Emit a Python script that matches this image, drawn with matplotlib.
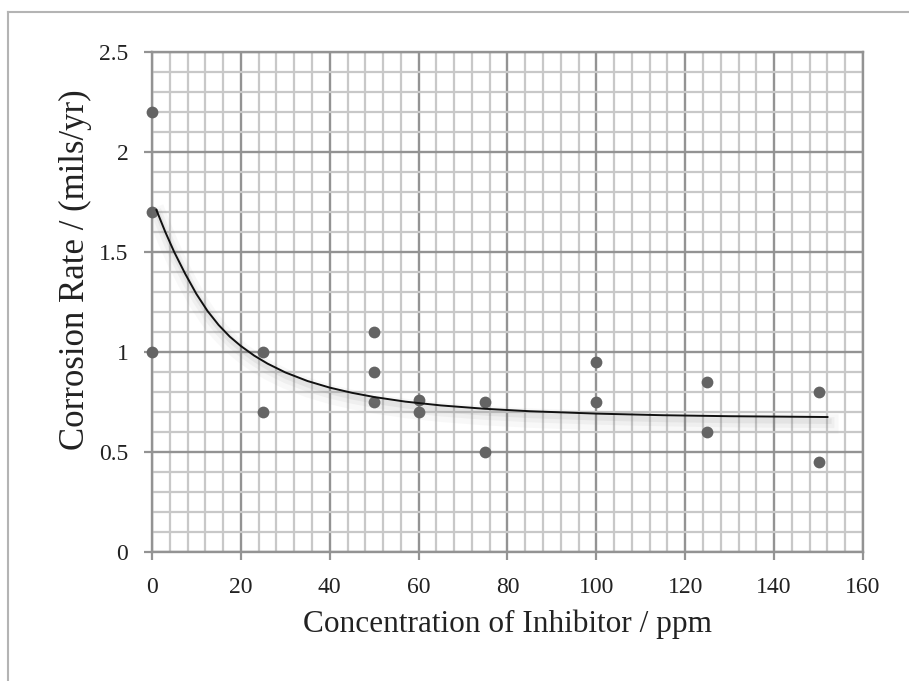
import matplotlib
matplotlib.use('Agg')
import matplotlib.pyplot as plt
import matplotlib.patheffects as pe
from matplotlib.ticker import MultipleLocator

# measured corrosion rates
conc = [0, 0, 0, 25, 25, 50, 50, 50, 60, 60, 75, 75, 100, 100, 125, 125, 150, 150]
rate = [2.2, 1.7, 1.0, 1.0, 0.7, 1.1, 0.9, 0.75, 0.76, 0.7, 0.75, 0.5, 0.95, 0.75, 0.85, 0.6, 0.8, 0.45]

# trend line
trend_x = [1, 3, 5, 7.5, 10, 12.5, 15, 17.5, 20, 23, 26, 30, 35, 40, 45, 50, 57, 65, 75, 85,
           100, 115, 130, 152]
trend_y = [1.71, 1.60, 1.50, 1.39, 1.29, 1.205, 1.135, 1.077, 1.03, 0.982, 0.942, 0.898, 0.855,
           0.822, 0.796, 0.775, 0.752, 0.733, 0.716, 0.704, 0.692, 0.684, 0.679, 0.675]

plt.rcParams['font.family'] = 'Liberation Serif'

fig = plt.figure(figsize=(9.09, 6.81), dpi=100)
ax = fig.add_axes([0.1672, 0.1894, 0.7822, 0.7342])

# outer chart border (only top/left visible in the crop)
fig.add_artist(plt.Line2D([0.009, 0.009], [0, 0.982], color='#b4b4b4', lw=1.5))
fig.add_artist(plt.Line2D([0.009, 1], [0.982, 0.982], color='#b4b4b4', lw=1.5))

ax.set_xlim(0, 160)
ax.set_ylim(0, 2.5)
ax.xaxis.set_major_locator(MultipleLocator(20))
ax.xaxis.set_minor_locator(MultipleLocator(4))
ax.yaxis.set_major_locator(MultipleLocator(0.5))
ax.yaxis.set_minor_locator(MultipleLocator(0.1))
ax.set_yticks([0, 0.5, 1, 1.5, 2, 2.5])
ax.set_yticklabels(['0', '0.5', '1', '1.5', '2', '2.5'])

ax.grid(which='minor', color='#c8c8c8', lw=1.6)
ax.grid(which='major', color='#939393', lw=1.7)
ax.set_axisbelow(True)
for s in ax.spines.values():
    s.set_color('#939393')
    s.set_linewidth(1.7)

ax.tick_params(which='major', direction='out', length=6, width=1.6, color='#939393',
               labelsize=17, labelcolor='#222222')
ax.tick_params(axis='x', pad=12)
ax.tick_params(axis='y', pad=11)
ax.tick_params(which='minor', length=0)

ax.scatter(conc, rate, s=72, color='#646464', zorder=3, linewidths=0, clip_on=False)

shadow = [pe.SimpleLineShadow(offset=(1, -5), shadow_color='#808080', alpha=0.05, linewidth=14),
          pe.SimpleLineShadow(offset=(1, -4), shadow_color='#808080', alpha=0.07, linewidth=8),
          pe.SimpleLineShadow(offset=(1, -3), shadow_color='#808080', alpha=0.10, linewidth=4),
          pe.Normal()]
ax.plot(trend_x, trend_y, color='#111111', lw=1.4, zorder=4, path_effects=shadow)

ax.set_xlabel('Concentration of Inhibitor / ppm', fontsize=22.5, color='#222222', labelpad=8)
ax.set_ylabel('Corrosion Rate / (mils/yr)', fontsize=25, color='#222222')
ax.yaxis.set_label_coords(-0.084, 0.564)

fig.savefig('out.png', dpi=100)
